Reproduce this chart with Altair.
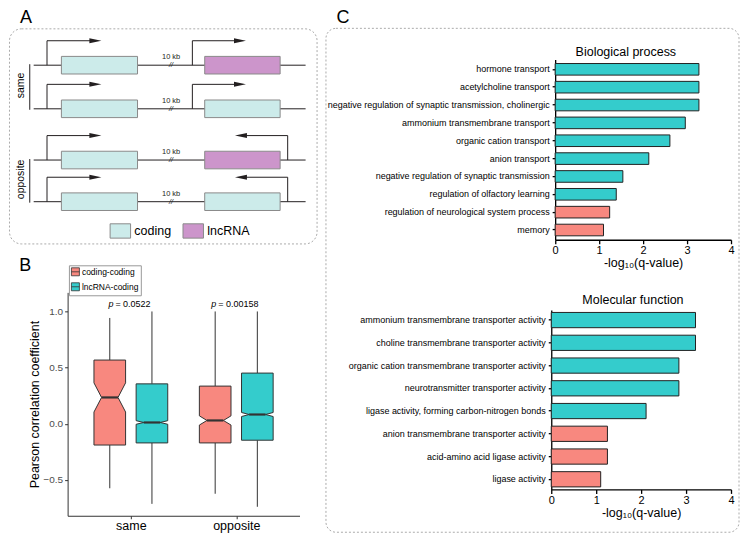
import altair as alt
import pandas as pd

# ------------------------------------------------------------------ data
# Panel A - schematic of neighbouring gene pairs (10 kb apart)
pair_orientation = ["same", "same", "opposite", "opposite"]
partner_type = ["lncRNA", "coding", "lncRNA", "coding"]
gene_types = ["coding", "lncRNA"]
gap_label = "10 kb"

# Panel B - notched box plot statistics (Pearson r)
box_group = ["same", "same", "opposite", "opposite"]
box_pair = ["coding-coding", "lncRNA-coding", "coding-coding", "lncRNA-coding"]
whisker_low = [-0.575, -0.714, -0.624, -0.740]
quartile_1 = [-0.190, -0.171, -0.171, -0.147]
median_r = [0.234, 0.011, 0.029, 0.082]
quartile_3 = [0.567, 0.355, 0.335, 0.451]
whisker_high = [0.942, 1.000, 1.000, 1.000]
notch_half = [0.130, 0.016, 0.041, 0.018]
pair_types = ["coding-coding", "lncRNA-coding"]
group_names = ["same", "opposite"]
p_values = ["0.0522", "0.00158"]

# Panel C - GO enrichment
bp_terms = [
    "hormone transport",
    "acetylcholine transport",
    "negative regulation of synaptic transmission, cholinergic",
    "ammonium transmembrane transport",
    "organic cation transport",
    "anion transport",
    "negative regulation of synaptic transmission",
    "regulation of olfactory learning",
    "regulation of neurological system process",
    "memory",
]
bp_q = [3.27, 3.27, 3.27, 2.96, 2.61, 2.13, 1.54, 1.39, 1.24, 1.10]
bp_class = ["I", "I", "I", "I", "I", "I", "I", "I", "II", "II"]

mf_terms = [
    "ammonium transmembrane transporter activity",
    "choline transmembrane transporter activity",
    "organic cation transmembrane transporter activity",
    "neurotransmitter transporter activity",
    "ligase activity, forming carbon-nitrogen bonds",
    "anion transmembrane transporter activity",
    "acid-amino acid ligase activity",
    "ligase activity",
]
mf_q = [3.21, 3.21, 2.84, 2.84, 2.11, 1.25, 1.25, 1.10]
mf_class = ["I", "I", "I", "I", "I", "II", "II", "II"]

# ------------------------------------------------------------------ styles
FONT = "Liberation Sans"
TEAL = "#34CCCC"
SALMON = "#F8887F"
CODING_FILL = "#CCEBEA"
LNC_FILL = "#CC95CB"
INK = "#231F20"
FRAME = "#ABABAB"
BOX_LINE = "#333333"

RIGHT_HEAD = "M-1,-0.42L1,0L-1,0.42Z"
LEFT_HEAD = "M1,-0.42L-1,0L1,0.42Z"
RECT_SYMBOL = "M-1,-0.7H1V0.7H-1Z"
BOX_SYMBOL = "M-1,-1H1V1H-1Z M-1,0H1"

LETTER = dict(fontSize=18, align="left", baseline="alphabetic", color="black")

# ------------------------------------------------------------------ layout (pixels)
AW, AH = 308, 215.4            # framed box of panel A
BW, BH = 308, 223.7            # panel B plot area
CW = 180                       # panel C bar charts
C1H, C2H = 211.7, 197.3
ROW_GAP, COL_GAP = 48.4, 235

# ------------------------------------------------------------------ panel A
# schematic units (domain 0..314 x 0..220)
ROW_BASE = [37.7, 82.3, 134.7, 177.3]
TRACK = (25.2, 302.8)
GENE_L = (53.5, 131.2)
GENE_R = (199.8, 276.8)
GENE_HALF = 9
TSS_L = (38.8, 94.2)
TSS_R_SAME = (187.2, 241.8)
TSS_R_OPP = (284.5, 230.8)
RISE = 25
HEAD = 12
GAP_X = 165.5
BRACKET_X = 21.2
LABEL_X = 11.8

tracks, genes, tss_v, tss_h, heads, gaps = [], [], [], [], [], []
for i, base in enumerate(ROW_BASE):
    tracks.append({"x": TRACK[0], "x2": TRACK[1], "y": base})
    genes.append({"x": GENE_L[0], "x2": GENE_L[1], "y": base - GENE_HALF,
                  "y2": base + GENE_HALF, "type": "coding"})
    genes.append({"x": GENE_R[0], "x2": GENE_R[1], "y": base - GENE_HALF,
                  "y2": base + GENE_HALF, "type": partner_type[i]})
    right = TSS_R_SAME if pair_orientation[i] == "same" else TSS_R_OPP
    for start, tip in (TSS_L, right):
        d = 1 if tip > start else -1
        tss_v.append({"x": start, "y": base, "y2": base - RISE})
        tss_h.append({"x": start, "x2": tip - d * HEAD * 0.6, "y": base - RISE})
        heads.append({"x": tip - d * HEAD / 2, "y": base - RISE,
                      "dir": "right" if d > 0 else "left"})
    gaps.append({"x": GAP_X, "y": base, "label": gap_label})

brackets, side_labels = [], []
for name in ["same", "opposite"]:
    ys = [ROW_BASE[i] for i in range(4) if pair_orientation[i] == name]
    brackets.append({"x": BRACKET_X, "y": min(ys) - 1, "y2": max(ys) + 1})
    side_labels.append({"x": LABEL_X, "y": sum(ys) / len(ys) - 1.5, "label": name})

sxA = alt.Scale(domain=[0, 314], nice=False, zero=False)
syA = alt.Scale(domain=[0, 220], nice=False, zero=False, reverse=True)


def axy(c, x="x", y="y"):
    return c.encode(x=alt.X(f"{x}:Q", scale=sxA, axis=None),
                    y=alt.Y(f"{y}:Q", scale=syA, axis=None))


a_tracks = axy(alt.Chart(pd.DataFrame(tracks)).mark_rule(color=INK, strokeWidth=1)).encode(x2="x2:Q")
a_genes = axy(alt.Chart(pd.DataFrame(genes)).mark_rect(stroke="#8A8A8A", strokeWidth=1, opacity=1)).encode(
    x2="x2:Q", y2="y2:Q",
    color=alt.Color("type:N", scale=alt.Scale(domain=gene_types, range=[CODING_FILL, LNC_FILL]),
                    legend=alt.Legend(title=None, orient="none", legendX=100.5, legendY=191.5,
                                      direction="horizontal", symbolType=RECT_SYMBOL,
                                      symbolSize=420, symbolStrokeColor="#8A8A8A",
                                      symbolStrokeWidth=1, symbolOpacity=1,
                                      labelFontSize=12.5, labelOffset=3, columnPadding=9,
                                      padding=0, labelColor="black")))
a_tss_v = axy(alt.Chart(pd.DataFrame(tss_v)).mark_rule(color=INK, strokeWidth=1)).encode(y2="y2:Q")
a_tss_h = axy(alt.Chart(pd.DataFrame(tss_h)).mark_rule(color=INK, strokeWidth=1)).encode(x2="x2:Q")
a_heads = axy(alt.Chart(pd.DataFrame(heads)).mark_point(filled=True, color=INK, opacity=1, size=HEAD * HEAD)).encode(
    shape=alt.Shape("dir:N", scale=alt.Scale(domain=["right", "left"], range=[RIGHT_HEAD, LEFT_HEAD]), legend=None))
a_gap_text = axy(alt.Chart(pd.DataFrame(gaps)).mark_text(fontSize=7.5, dy=-8, color=INK)).encode(text="label:N")
a_breaks = axy(alt.Chart(pd.DataFrame(gaps)).mark_text(text="//", fontSize=7.5, color=INK, baseline="middle", fontStyle="italic"))
a_brackets = axy(alt.Chart(pd.DataFrame(brackets)).mark_rule(color=INK, strokeWidth=1)).encode(y2="y2:Q")
a_side = axy(alt.Chart(pd.DataFrame(side_labels)).mark_text(angle=270, fontSize=10.5, color="black",
                                                          baseline="middle")).encode(text="label:N")
a_letter = alt.Chart(pd.DataFrame({"panel": ["A"]})).mark_text(**LETTER).encode(
    text="panel:N", x=alt.value(11), y=alt.value(-5))

panelA = alt.layer(a_tracks, a_genes, a_tss_v, a_tss_h, a_heads, a_gap_text, a_breaks,
                   a_brackets, a_side, a_letter).properties(
    width=AW, height=AH,
    view=alt.ViewBackground(stroke=FRAME, strokeDash=[2, 2], strokeWidth=1, cornerRadius=12),
)

# ------------------------------------------------------------------ panel B
B_RANGE = [58.7, 290.9]
group_pos = {g: i + 1 for i, g in enumerate(group_names)}
pair_shift = {"coding-coding": -0.2, "lncRNA-coding": 0.2}
HALF_W = 0.15
INDENT = 0.072

box_rows, whisk_rows, med_rows = [], [], []
for i in range(4):
    c = group_pos[box_group[i]] + pair_shift[box_pair[i]]
    L, R = c - HALF_W, c + HALF_W
    m, n = median_r[i], notch_half[i]
    for yv, xl, xr in [(quartile_1[i], L, R), (m - n, L, R), (m, L + INDENT, R - INDENT),
                       (m + n, L, R), (quartile_3[i], L, R)]:
        box_rows.append({"box": i, "pair": box_pair[i], "y": yv, "xl": xl, "xr": xr})
    whisk_rows.append({"x": c, "y": quartile_3[i], "y2": whisker_high[i]})
    whisk_rows.append({"x": c, "y": quartile_1[i], "y2": whisker_low[i]})
    med_rows.append({"x": L + INDENT, "x2": R - INDENT, "y": m})

PX_PER_UNIT = (B_RANGE[1] - B_RANGE[0]) / 2.2
p_rows = []
for g, pv in zip(group_names, p_values):
    right_px = -2.5 * len(pv) - 2.5
    p_rows.append({"xp": group_pos[g] + right_px / PX_PER_UNIT,
                   "xv": group_pos[g] + (right_px + 2) / PX_PER_UNIT,
                   "y": 1.07, "label": "= " + pv})

sxB = alt.Scale(domain=[0.4, 2.6], range=B_RANGE, nice=False, zero=False)
syB = alt.Scale(domain=[-0.82, 1.17], nice=False, zero=False)

b_whisk = alt.Chart(pd.DataFrame(whisk_rows)).mark_rule(color=BOX_LINE, strokeWidth=1).encode(
    x=alt.X("x:Q", scale=sxB,
            axis=alt.Axis(values=[1, 2], labelExpr="datum.value == 1 ? 'same' : 'opposite'",
                          labelFontSize=12.5, labelColor="black", tickColor=BOX_LINE, tickSize=3,
                          domainColor=BOX_LINE, title=None, grid=False, labelPadding=1)),
    y=alt.Y("y:Q", scale=syB,
            axis=alt.Axis(values=[-0.5, 0, 0.5, 1.0],
                          labelExpr="replace(format(datum.value, '.1f'), '-', '\u2212')",
                          labelFontSize=10, labelColor="#4D4D4D", tickColor=BOX_LINE, tickSize=3,
                          domainColor=BOX_LINE, title="Pearson correlation coefficient",
                          titleFontSize=12.5, titleFontWeight="normal", titleColor="black",
                          titlePadding=1, grid=False, offset=-B_RANGE[0], labelPadding=2)),
    y2="y2:Q",
)
b_box = alt.Chart(pd.DataFrame(box_rows)).mark_area(
    orient="horizontal", stroke=BOX_LINE, strokeWidth=1, opacity=1).encode(
    y=alt.Y("y:Q", scale=syB),
    x=alt.X("xl:Q", scale=sxB, stack=None),
    x2="xr:Q",
    detail="box:N",
    color=alt.Color("pair:N", scale=alt.Scale(domain=pair_types, range=[SALMON, TEAL]),
                    legend=alt.Legend(title=None, orient="none", legendX=B_RANGE[0] + 1.3,
                                      legendY=-27.1,
                                      symbolType=BOX_SYMBOL, symbolSize=64,
                                      symbolStrokeColor=BOX_LINE, symbolStrokeWidth=0.8,
                                      symbolOpacity=1, labelFontSize=8.5, labelOffset=2,
                                      rowPadding=2, padding=2, strokeColor="#999999",
                                      fillColor="white", labelColor="black")),
)
b_med = alt.Chart(pd.DataFrame(med_rows)).mark_rule(color=BOX_LINE, strokeWidth=2.2).encode(
    x=alt.X("x:Q", scale=sxB), x2="x2:Q", y=alt.Y("y:Q", scale=syB))
b_p = alt.Chart(pd.DataFrame(p_rows)).mark_text(
    text="p", fontStyle="italic", fontSize=9, align="right", baseline="middle", color="black").encode(
    x=alt.X("xp:Q", scale=sxB), y=alt.Y("y:Q", scale=syB))
b_pv = alt.Chart(pd.DataFrame(p_rows)).mark_text(
    fontSize=9, align="left", baseline="middle", color="black").encode(
    x=alt.X("xv:Q", scale=sxB), y=alt.Y("y:Q", scale=syB), text="label:N")
b_letter = alt.Chart(pd.DataFrame({"panel": ["B"]})).mark_text(**LETTER).encode(
    text="panel:N", x=alt.value(10.3), y=alt.value(-21.2))

panelB = alt.layer(b_whisk, b_box, b_med, b_p, b_pv, b_letter).properties(width=BW, height=BH)

# ------------------------------------------------------------------ panel C


def go_bars(terms, values, classes, x_range, y_range, y_offset, p_in, p_out):
    df = pd.DataFrame({"term": terms, "q": values, "cls": classes})
    return alt.Chart(df).mark_bar(stroke="#222222", strokeWidth=1, opacity=1).encode(
        x=alt.X("q:Q", scale=alt.Scale(domain=[0, 4], range=x_range, nice=False),
                axis=alt.Axis(values=[0, 1, 2, 3, 4], format="d", labelFontSize=11,
                              labelColor="black", tickColor="black", tickSize=4, tickWidth=1.3,
                              domainColor="black", domainWidth=1.3, labelPadding=1,
                              labelFlush=False,
                              title="-log\u2081\u2080(q-value)", titleFontSize=12.5,
                              titleFontWeight="normal", titleColor="black", titlePadding=1,
                              grid=False)),
        y=alt.Y("term:N", sort=terms,
                scale=alt.Scale(range=y_range, paddingInner=p_in, paddingOuter=p_out),
                axis=alt.Axis(labelFontSize=9, labelColor="black", tickColor="black",
                              tickSize=3, tickWidth=1.3, domainColor="black", domainWidth=1.3,
                              labelPadding=3, labelLimit=400, title=None, offset=y_offset)),
        color=alt.Color("cls:N", scale=alt.Scale(domain=["I", "II"], range=[TEAL, SALMON]),
                        legend=None),
    )


c_frame = alt.Chart(pd.DataFrame({"frame": [0]})).mark_rect(
    filled=False, stroke=FRAME, strokeDash=[2, 2], strokeWidth=1, cornerRadius=10).encode(
    x=alt.value(-225.6), x2=alt.value(188), y=alt.value(0), y2=alt.value(504.6))
c_letter = alt.Chart(pd.DataFrame({"panel": ["C"]})).mark_text(**LETTER).encode(
    text="panel:N", x=alt.value(-215), y=alt.value(-5))
c1_title = alt.Chart(pd.DataFrame({"t": ["Biological process"]})).mark_text(
    fontSize=12.5, align="center", baseline="alphabetic", color="black").encode(
    text="t:N", x=alt.value(74.7), y=alt.value(27.8))
c2_title = alt.Chart(pd.DataFrame({"t": ["Molecular function"]})).mark_text(
    fontSize=12.5, align="center", baseline="alphabetic", color="black").encode(
    text="t:N", x=alt.value(81.8), y=alt.value(11.2))

c1 = alt.layer(
    c_frame, c_letter, c1_title,
    go_bars(bp_terms, bp_q, bp_class, [3.9, CW], [31.3, C1H], -3.9, 0.35, 0.22),
).properties(width=CW, height=C1H)
c2 = alt.layer(
    c2_title,
    go_bars(mf_terms, mf_q, mf_class, [0, CW], [17.6, C2H], 0, 0.33, 0.11),
).properties(width=CW, height=C2H)

chart = alt.concat(
    panelA, c1, panelB, c2, columns=2, bounds="flush", align="each",
    spacing={"row": ROW_GAP, "column": COL_GAP},
).resolve_scale(
    x="independent", y="independent", color="independent", shape="independent"
).resolve_legend(color="independent").properties(
    padding=0, background="white",
).configure(font=FONT).configure_view(stroke=None)

chart.save("out.html", embed_options={"renderer": "svg", "actions": False})
